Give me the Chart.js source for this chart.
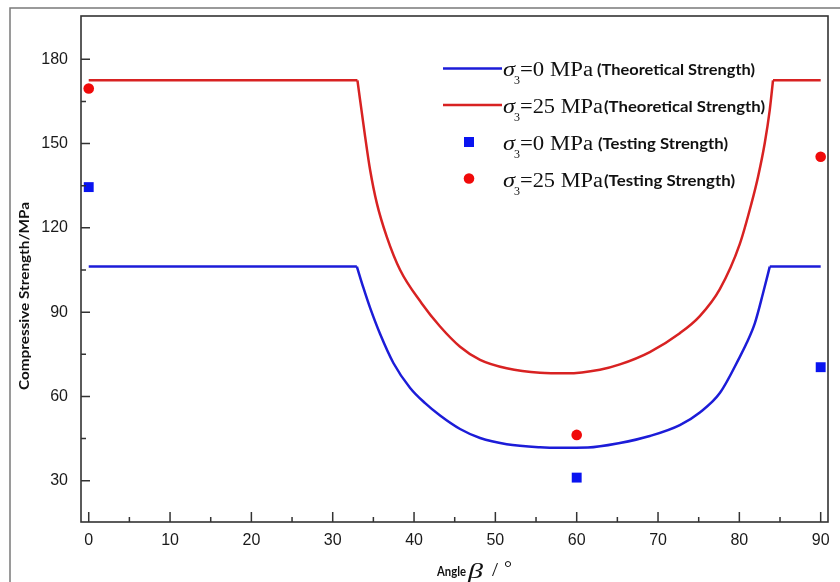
<!DOCTYPE html>
<html>
<head>
<meta charset="utf-8">
<script src="https://cdn.jsdelivr.net/npm/chart.js@4.4.0/dist/chart.umd.min.js"></script>
<style>
  html, body { margin: 0; padding: 0; background: #ffffff; }
  canvas { display: block; }
</style>
</head>
<body>
<canvas id="chart" width="840" height="582"></canvas>
<script>
// Theoretical strength, sigma3 = 0 MPa
const theoryAngles0 = [0, 32.97, 33.78, 34.6, 35.83, 37.46, 39.52, 41.36, 43.2, 45.66, 48.12, 51.39, 55.48, 57.94, 61.38, 65.31, 68.99, 72.68, 75.14, 77.6, 80.06, 80.88, 81.9, 82.91, 83.74, 90];
const theory0       = [106.2, 106.2, 98.6, 91.5, 82.2, 71.9, 63.0, 57.6, 53.2, 48.4, 45.2, 43.0, 41.9, 41.7, 41.8, 43.4, 45.9, 49.8, 54.3, 61.2, 74.1, 78.9, 86.0, 96.7, 106.2, 106.2];

// Theoretical strength, sigma3 = 25 MPa
const theoryAngles25 = [0, 33.04, 33.99, 34.6, 35.43, 36.65, 38.29, 40.95, 43.2, 45.66, 48.12, 51.39, 55.48, 58.76, 62.85, 65.31, 68.99, 72.68, 75.14, 77.6, 80.06, 81.49, 82.3, 83.12, 83.74, 84.14, 90];
const theory25       = [172.5, 172.5, 152.4, 140.6, 128.7, 116.8, 105.0, 93.1, 84.9, 77.7, 73.0, 70.0, 68.4, 68.2, 69.5, 71.4, 75.8, 82.5, 88.6, 98.2, 114.3, 128.7, 138.2, 150.1, 162.0, 172.5, 172.5];

// Testing strength
const testAngles = [0, 60, 90];
const test0      = [134.5, 31.1, 70.4];
const test25     = [169.6, 46.3, 145.3];

// Axis ticks
const xTickValues  = [0, 10, 20, 30, 40, 50, 60, 70, 80, 90];
const xMinorValues = [5, 15, 25, 35, 45, 55, 65, 75, 85];
const yTickValues  = [30, 60, 90, 120, 150, 180];
const yMinorValues = [45, 75, 105, 135, 165];

const toPoints = (xs, ys) => xs.map((x, i) => ({ x: x, y: ys[i] }));

const BLUE_LINE = '#1c1cd8';
const RED_LINE = '#d82222';
const BLUE_MARK = '#0a14f0';
const RED_MARK = '#f00a0a';
const AXIS = '#333333';
const INK = '#111111';

// A theoretical curve: flat plateaus joined to a smooth trough, kept as
// separate pieces so the plateau corners stay sharp.
function theoryPieces(xs, ys, color, label) {
  const n = xs.length;
  const base = { showLine: true, borderColor: color, borderWidth: 2.5, pointRadius: 0 };
  return [
    Object.assign({}, base, { label: label, data: toPoints(xs.slice(1, n - 1), ys.slice(1, n - 1)), cubicInterpolationMode: 'monotone' }),
    Object.assign({}, base, { label: label, data: toPoints(xs.slice(0, 2), ys.slice(0, 2)) }),
    Object.assign({}, base, { label: label, data: toPoints(xs.slice(n - 2), ys.slice(n - 2)) })
  ];
}

// Draw text squeezed/stretched to a given width
function fitText(ctx, text, font, x, y, width, color) {
  ctx.save();
  ctx.font = font;
  ctx.fillStyle = color || INK;
  ctx.textAlign = 'left';
  ctx.textBaseline = 'alphabetic';
  const m = ctx.measureText(text).width;
  const sx = width ? width / m : 1;
  ctx.translate(x, y);
  ctx.scale(sx, 1);
  ctx.fillText(text, 0, 0);
  ctx.restore();
}

// sigma with subscript 3, followed by the pressure value
function sigmaLabel(ctx, x, base, rest, restWidth) {
  fitText(ctx, '\u03c3', "italic 22px 'Liberation Serif'", x, base, 12);
  fitText(ctx, '3', "13px 'Liberation Serif'", x + 11, base + 8, 6);
  fitText(ctx, rest, "20px 'Liberation Serif'", x + 17, base, restWidth);
}

const decorations = {
  id: 'decorations',
  afterDraw(chart) {
    const ctx = chart.ctx;
    const a = chart.chartArea;
    const xs = chart.scales.x;
    const ys = chart.scales.y;

    // outer frame
    ctx.save();
    ctx.strokeStyle = '#7a7a7a';
    ctx.lineWidth = 1.5;
    ctx.beginPath();
    ctx.moveTo(10, 582);
    ctx.lineTo(10, 8);
    ctx.lineTo(840, 8);
    ctx.stroke();

    // plot box
    ctx.strokeStyle = AXIS;
    ctx.lineWidth = 1.6;
    ctx.strokeRect(a.left, a.top, a.right - a.left, a.bottom - a.top);

    // inward ticks
    ctx.lineWidth = 1.5;
    ctx.beginPath();
    xTickValues.forEach(v => {
      const px = xs.getPixelForValue(v);
      ctx.moveTo(px, a.bottom); ctx.lineTo(px, a.bottom - 10);
    });
    xMinorValues.forEach(v => {
      const px = xs.getPixelForValue(v);
      ctx.moveTo(px, a.bottom); ctx.lineTo(px, a.bottom - 5);
    });
    yTickValues.forEach(v => {
      const py = ys.getPixelForValue(v);
      ctx.moveTo(a.left, py); ctx.lineTo(a.left + 9, py);
    });
    yMinorValues.forEach(v => {
      const py = ys.getPixelForValue(v);
      ctx.moveTo(a.left, py); ctx.lineTo(a.left + 5, py);
    });
    ctx.stroke();

    // x tick labels
    ctx.font = "16px 'Liberation Sans'";
    ctx.fillStyle = '#1a1a1a';
    ctx.textAlign = 'center';
    ctx.textBaseline = 'middle';
    xTickValues.forEach(v => {
      ctx.fillText(String(v), xs.getPixelForValue(v), a.bottom + 19);
    });
    ctx.restore();

    // legend
    ctx.save();
    ctx.lineWidth = 2.5;
    ctx.strokeStyle = BLUE_LINE;
    ctx.beginPath(); ctx.moveTo(443, 68.5); ctx.lineTo(502, 68.5); ctx.stroke();
    ctx.strokeStyle = RED_LINE;
    ctx.beginPath(); ctx.moveTo(443, 105); ctx.lineTo(502, 105); ctx.stroke();
    ctx.fillStyle = BLUE_MARK;
    ctx.fillRect(464, 137, 10, 10);
    ctx.fillStyle = RED_MARK;
    ctx.beginPath(); ctx.arc(469, 178.5, 5.3, 0, Math.PI * 2); ctx.fill();
    ctx.restore();

    const bold = "bold 15px Lato";
    sigmaLabel(ctx, 503, 76, '=0 MPa', 73);
    fitText(ctx, '(Theoretical Strength)', bold, 597, 75, 158);
    sigmaLabel(ctx, 503, 112.5, '=25 MPa', 83);
    fitText(ctx, '(Theoretical Strength)', bold, 604, 111.5, 161);
    sigmaLabel(ctx, 503, 149.5, '=0 MPa', 73);
    fitText(ctx, '(Testing Strength)', bold, 598, 148.5, 130);
    sigmaLabel(ctx, 503, 186.5, '=25 MPa', 83);
    fitText(ctx, '(Testing Strength)', bold, 604, 185.5, 131);

    // y axis title
    ctx.save();
    ctx.translate(29, 296);
    ctx.rotate(-Math.PI / 2);
    ctx.font = "bold 14px Lato";
    const tw = ctx.measureText('Compressive Strength/MPa').width;
    ctx.scale(188 / tw, 1);
    ctx.fillStyle = INK;
    ctx.textAlign = 'center';
    ctx.textBaseline = 'alphabetic';
    ctx.fillText('Compressive Strength/MPa', 0, 0);
    ctx.restore();

    // x axis title
    fitText(ctx, 'Angle', "bold 13px Lato", 437, 576, 29);
    fitText(ctx, '\u03b2', "italic 22px 'Liberation Serif'", 468, 578, 15);
    fitText(ctx, '/', "18px 'Liberation Serif'", 492, 576, 6);
    fitText(ctx, '\u00b0', "18px 'Liberation Serif'", 504, 574, 8);
  }
};

new Chart(document.getElementById('chart'), {
  type: 'scatter',
  data: {
    datasets: [
      ...theoryPieces(theoryAngles0, theory0, BLUE_LINE, 'σ3=0 MPa (Theoretical Strength)'),
      ...theoryPieces(theoryAngles25, theory25, RED_LINE, 'σ3=25 MPa (Theoretical Strength)'),
      {
        label: 'σ3=0 MPa (Testing Strength)',
        data: toPoints(testAngles, test0),
        showLine: false,
        pointStyle: 'rect',
        pointRadius: 7,
        backgroundColor: BLUE_MARK,
        borderWidth: 0
      },
      {
        label: 'σ3=25 MPa (Testing Strength)',
        data: toPoints(testAngles, test25),
        showLine: false,
        pointStyle: 'circle',
        pointRadius: 5.3,
        backgroundColor: RED_MARK,
        borderWidth: 0
      }
    ]
  },
  options: {
    responsive: false,
    animation: false,
    devicePixelRatio: 1,
    layout: { padding: { top: 16, right: 12, left: 0, bottom: 0 } },
    plugins: { legend: { display: false }, tooltip: { enabled: false } },
    scales: {
      x: {
        type: 'linear',
        min: -0.95,
        max: 90.9,
        grid: { display: false, drawTicks: false },
        border: { display: false },
        ticks: { display: false },
        afterBuildTicks: s => { s.ticks = xTickValues.map(v => ({ value: v })); },
        afterFit: s => { s.height = 60; s.paddingLeft = 0; s.paddingRight = 0; }
      },
      y: {
        type: 'linear',
        min: 15.3,
        max: 195.4,
        grid: { display: false, drawTicks: false },
        border: { display: false },
        ticks: {
          padding: 13,
          color: '#1a1a1a',
          font: { family: "'Liberation Sans'", size: 16 }
        },
        afterBuildTicks: s => { s.ticks = yTickValues.map(v => ({ value: v })); },
        afterFit: s => { s.width = 81; s.paddingTop = 0; s.paddingBottom = 0; }
      }
    }
  },
  plugins: [decorations]
});
</script>
</body>
</html>
